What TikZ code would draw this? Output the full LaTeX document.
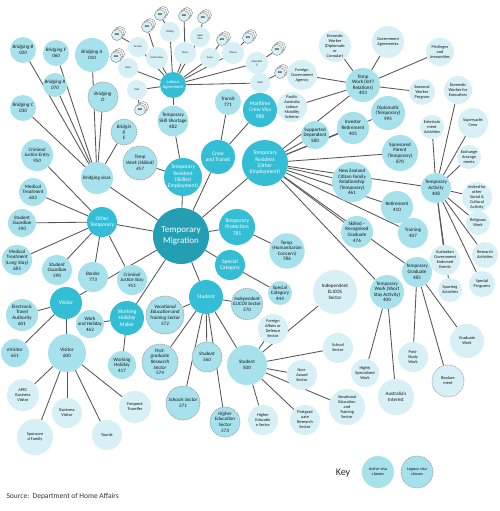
\documentclass[tikz,border=0pt]{standalone}
\usepackage{fontspec}
\setmainfont{Carlito}
\usetikzlibrary{backgrounds}
\definecolor{cDark}{RGB}{36,158,178}
\definecolor{cMed}{RGB}{51,190,214}
\definecolor{cLight}{RGB}{166,225,236}
\definecolor{cVLight}{RGB}{214,240,246}
\definecolor{cEdge}{RGB}{85,85,85}
\tikzset{
 nb/.style={circle,inner sep=0pt,align=center,text=black!92,font=\fontsize{5}{5.6}\selectfont},
 dk/.style={nb,fill=cDark,text=white,font=\fontsize{9}{10.5}\selectfont},
 md/.style={nb,fill=cMed,text=white,font=\fontsize{5.5}{6.3}\selectfont},
 lt/.style={nb,fill=cLight},
 vl/.style={nb,fill=cVLight,font=\fontsize{4.3}{5}\selectfont},
 lg/.style={nb,fill=cLight,draw=gray!80,dash pattern=on 1.2pt off 0.9pt,line width=0.6pt},
 itx/.style={font=\fontsize{5}{5.6}\selectfont\itshape},
 ind/.style={nb,fill=cVLight,font=\fontsize{2.6}{3}\selectfont,minimum size=20},
 stkc/.style={draw=gray,fill=white,line width=0.4pt},
 stkn/.style={circle,draw=gray,fill=cVLight,line width=0.4pt,inner sep=0pt,minimum size=11,font=\fontsize{2.8}{3}\selectfont\bfseries},
 edge/.style={draw=cEdge,line width=0.85pt},
 rad/.style={minimum size=2*#1}
}
\newcommand{\stk}[3]{\draw[stkc] (#2+3,#3-3) circle (5.5pt); \draw[stkc] (#2+1.5,#3-1.5) circle (5.5pt); \node[stkn] (#1) at (#2,#3) {482};}
\begin{document}
\begin{tikzpicture}[x=1pt,y=-1pt]
\useasboundingbox (0,0) rectangle (500,511);
\begin{scope}[on background layer]
\fill[white] (0,0) rectangle (500,511);
\end{scope}
% centre and categories
\node[dk,rad=28] (tm) at (181,236) {Temporary\\Migration};
\node[md,rad=19] (trs) at (183,177) {Temporary\\Resident\\(Skilled\\Employment)};
\node[lt,rad=15] (tss) at (173,121) {Temporary\\Skill Shortage\\482};
\node[md,rad=13,font=\fontsize{4.5}{5.2}\selectfont] (la) at (173,85) {Labour\\Agreement};
\node[md,rad=17] (ct) at (218,157) {Crew\\and Transit};
\node[lt,rad=13] (tr771) at (228,102) {Transit\\771};
\node[md,rad=17] (mcv) at (260,110) {Maritime\\Crew Visa\\988};
\node[md,rad=23] (tro) at (265,163) {Temporary\\Resident\\(Other\\Employment)};
% industry nodes
\node[ind] (i1) at (128,68) {Dairy};
\node[ind] (i2) at (137,90) {Pork};
\node[ind] (i3) at (138,47) {On-hire};
\node[ind,minimum size=22] (i4) at (157,58) {Horticulture};
\node[ind] (i5) at (170,32) {Fishing};
\node[ind,minimum size=22] (i6) at (185,53) {Meat};
\node[ind] (i7) at (200,37) {Aged\\Care};
\node[ind] (i8) at (210,58) {Snow};
\node[ind,minimum size=22] (i9) at (233,53) {Fitness};
\node[ind,minimum size=22] (i10) at (257,63) {Advertisin\\g};
\node[ind] (i11) at (260,83) {MoR};
\stk{k1}{116}{57}
\stk{k2}{140}{110}
\stk{k3}{117}{35}
\stk{k4}{147}{27}
\stk{k5}{160}{15}
\stk{k6}{184}{16}
\stk{k7}{203}{18}
\stk{k8}{222}{40}
\stk{k9}{248}{38}
\stk{k10}{277}{50}
\stk{k11}{280}{73}
% international relations
\node[vl,rad=15] (fga) at (302,75) {Foreign\\Government\\Agency};
\node[vl,rad=15] (palm) at (292,107) {Pacific\\Australia\\Labour\\Mobility\\Scheme};
\node[vl,rad=16] (dw) at (335,46) {Domestic\\Worker\\(Diplomatic\\or\\Consular)};
\node[vl,rad=16] (ga) at (388,42) {Government\\Agreements};
\node[vl,rad=14] (pi) at (440,52) {Privileges\\and\\Immunities};
\node[lt,rad=17] (tw403) at (363,85) {Temp\\Work (Int'l\\Relations)\\403};
\node[vl,rad=13] (swp) at (422,92) {Seasonal\\Worker\\Program};
\node[vl,rad=14] (dwe) at (458,90) {Domestic\\Worker for\\Executives};
\node[lt,rad=17] (dip) at (388,113) {Diplomatic\\(Temporary)\\995};
\node[lt,rad=16] (inv) at (353,128) {Investor\\Retirement\\405};
\node[lt,rad=14] (sd) at (315,135) {Supported\\Dependent\\580};
\node[vl,rad=12] (ent) at (432,127) {Entertain\\ment\\Activities};
\node[vl,rad=15] (syc) at (473,123) {Superyacht\\Crew};
\node[lt,rad=18] (sp) at (400,153) {Sponsored\\Parent\\(Temporary)\\870};
\node[vl,rad=12] (exa) at (469,157) {Exchange\\Arrange\\ments};
\node[lt,rad=20] (nz) at (352,182) {New Zealand\\Citizen Family\\Relationship\\(Temporary)\\461};
\node[lt,rad=15] (ta) at (436,188) {Temporary\\Activity\\408};
\node[lt,rad=16] (ret) at (397,207) {Retirement\\410};
\node[vl,rad=14] (isc) at (477,197) {Invited for\\other\\Social \&\\Cultural\\Activity};
\node[lt,rad=16] (srg) at (357,232) {Skilled --\\Recognised\\Graduate\\476};
\node[lt,rad=15] (trn) at (413,233) {Training\\407};
\node[vl,rad=12] (rw) at (478,223) {Religious\\Work};
\node[vl,rad=15] (agee) at (445,260) {Australian\\Government\\Endorsed\\Events};
\node[vl,rad=13] (ra) at (485,255) {Research\\Activities};
\node[lt,rad=15] (tg) at (417,272) {Temporary\\Graduate\\485};
\node[vl,rad=13] (spg) at (482,284) {Special\\Programs};
\node[vl,rad=12] (spa) at (450,290) {Sporting\\Activities};
\node[lt,rad=17] (tw400) at (387,292) {Temporary\\Work (Short\\Stay Activity)\\400};
\node[vl,rad=22,font=\fontsize{5}{5.8}\selectfont] (iel) at (335,292) {Independent\\ELICOS\\Sector};
\node[vl,rad=15] (psw) at (413,357) {Post-\\Study\\Work};
\node[vl,rad=17] (gw) at (467,341) {Graduate\\Work};
\node[lg,rad=16,font=\fontsize{4.3}{5}\selectfont,fill=cVLight] (rep) at (448,381) {Replace\\ment};
\node[vl,rad=14] (hsw) at (365,373) {Highly\\Specialised\\Work};
\node[vl,rad=18,font=\fontsize{5}{5.8}\selectfont] (ai) at (396,397) {Australia's\\Interest};
\node[vl,rad=18] (vet) at (347,407) {Vocational\\Education\\and\\Training\\Sector};
% protection, special category, student
\node[md,rad=18] (tp) at (237,227) {Temporary\\Protection\\785};
\node[lt,rad=15] (thc) at (287,251) {Temp.\\(Humanitarian\\Concern)\\786};
\node[md,rad=15] (sc) at (230,265) {Special\\Category};
\node[lt,rad=12] (sc444) at (280,293) {Special\\Category\\444};
\node[md,rad=17] (stu) at (206,297) {Student};
\node[lg,rad=15,itx] (ie570) at (247,304) {Independent\\ELICOS Sector\\570};
\node[vl,rad=15] (fad) at (273,329) {Foreign\\Affairs or\\Defence\\Sector};
\node[lt,rad=20] (s500) at (247,365) {Student\\500};
\node[vl,rad=15] (ss) at (338,348) {School\\Sector};
\node[vl,rad=15] (nas) at (302,375) {Non-\\Award\\Sector};
\node[vl,rad=15] (hes) at (263,420) {Higher\\Educatio\\n Sector};
\node[vl,rad=15] (prs) at (305,420) {Postgrad\\uate\\Research\\Sector};
\node[lg,rad=19,itx] (v572) at (165,315) {Vocational\\Education and\\Training Sector\\572};
\node[lg,rad=18,itx] (p574) at (160,362) {Post-\\graduate\\Research\\Sector\\574};
\node[lg,rad=15,itx] (s560) at (207,357) {Student\\560};
\node[lg,rad=17,itx] (s571) at (183,403) {Schools Sector\\571};
\node[lg,rad=15,itx] (h573) at (225,422) {Higher\\Education\\Sector\\573};
% bridging
\node[lt,rad=16] (bv) at (97,178) {Bridging visas};
\node[lt,rad=17,itx] (bA) at (92,55) {Bridging A\\010};
\node[lt,rad=13,itx] (bB) at (23,50) {Bridging B\\020};
\node[lt,rad=13,itx] (bF) at (56,53) {Bridging F\\060};
\node[lt,rad=12,itx] (bR) at (55,85) {Bridging R\\070};
\node[lt,rad=13,itx] (bC) at (23,108) {Bridging C\\030};
\node[lg,rad=15,itx] (bD) at (103,97) {Bridging\\D};
\node[lg,rad=13,itx] (bE) at (124,132) {Bridgin\\g\\E};
\node[lt,rad=16,itx] (cje) at (37,155) {Criminal\\Justice Entry\\950};
\node[lg,rad=17,itx] (tw457) at (140,163) {Temp\\Work (Skilled)\\457};
% other temporary
\node[md,rad=15,font=\fontsize{5.5}{6.3}\selectfont\itshape] (ot) at (102,222) {Other\\Temporary};
\node[lt,rad=14,itx] (mt602) at (33,192) {Medical\\Treatment\\602};
\node[lt,rad=14,itx] (sg1) at (22,223) {Student\\Guardian\\590};
\node[lt,rad=15,itx] (mt685) at (17,260) {Medical\\Treatment\\(Long Stay)\\685};
\node[lt,rad=15,itx] (sg2) at (57,270) {Student\\Guardian\\590};
\node[lt,rad=15,itx] (b773) at (93,277) {Border\\773};
\node[lt,rad=15,itx] (cjs) at (132,280) {Criminal\\Justice Stay\\951};
% visitor, WHM
\node[md,rad=16] (vis) at (66,303) {Visitor};
\node[lt,rad=16] (eta) at (22,315) {Electronic\\Travel\\Authority\\601};
\node[lt,rad=13] (wh462) at (90,324) {Work\\and Holiday\\462};
\node[md,rad=17] (whm) at (127,318) {Working\\Holiday\\Maker};
\node[lt,rad=14] (ev) at (15,353) {eVisitor\\651};
\node[lt,rad=19] (v600) at (67,353) {Visitor\\600};
\node[lt,rad=14] (wh417) at (122,365) {Working\\Holiday\\417};
\node[vl,rad=16] (apec) at (23,395) {APEC\\Business\\Visitor};
\node[vl,rad=15] (bvis) at (67,413) {Business\\Visitor};
\node[vl,rad=16] (ft) at (135,407) {Frequent\\Traveller};
\node[vl,rad=18] (sfam) at (35,437) {Sponsore\\d Family};
\node[vl,rad=15] (tour) at (107,435) {Tourist};
% key and source
\node[font=\fontsize{10}{12}\selectfont,text=black!85] (key) at (343,473) {Key};
\node[lt,rad=16,font=\fontsize{4.3}{5}\selectfont] (kact) at (378,472) {Active visa\\classes};
\node[lg,rad=16,font=\fontsize{4.3}{5}\selectfont\itshape] (kleg) at (417,472) {Legacy visa\\classes};
\node[anchor=west,font=\fontsize{7.5}{9}\selectfont,text=black!80] (src) at (3,497) {Source:\ \ Department of Home Affairs};
\begin{scope}[on background layer]
\foreach \a/\b in {tm/bv,tm/ot,tm/trs,tm/tro,tm/ct,tm/tp,tm/sc,tm/stu,tm/whm,tm/vis,
 trs/tss,trs/tw457,tss/la,
 la/i1,la/i2,la/i3,la/i4,la/i5,la/i6,la/i7,la/i8,la/i9,la/i10,la/i11,
 i1/k1,i2/k2,i3/k3,i4/k4,i5/k5,i6/k6,i7/k7,i8/k8,i9/k9,i10/k10,i11/k11,
 ct/tr771,ct/mcv,
 tro/tw403,tro/sd,tro/inv,tro/dip,tro/sp,tro/nz,tro/ret,tro/srg,tro/trn,tro/ta,tro/tg,tro/tw400,
 tw403/dw,tw403/ga,tw403/pi,tw403/swp,tw403/fga,tw403/palm,
 ta/dwe,ta/syc,ta/ent,ta/exa,ta/isc,ta/rw,ta/agee,ta/ra,ta/spg,ta/spa,
 tg/psw,tg/gw,tg/rep,tw400/hsw,tw400/ai,
 tp/thc,sc/sc444,
 stu/v572,stu/p574,stu/s560,stu/s571,stu/h573,stu/ie570,stu/s500,
 s500/fad,s500/iel,s500/ss,s500/nas,s500/vet,s500/prs,s500/hes,
 bv/bA,bv/bB,bv/bF,bv/bR,bv/bC,bv/bD,bv/bE,
 ot/cje,ot/mt602,ot/sg1,ot/mt685,ot/sg2,ot/b773,ot/cjs,
 vis/eta,vis/ev,vis/v600,
 v600/apec,v600/bvis,v600/ft,v600/sfam,v600/tour,
 whm/wh462,whm/wh417}
 \draw[edge] (\a) -- (\b);
\end{scope}
\end{tikzpicture}
\end{document}
